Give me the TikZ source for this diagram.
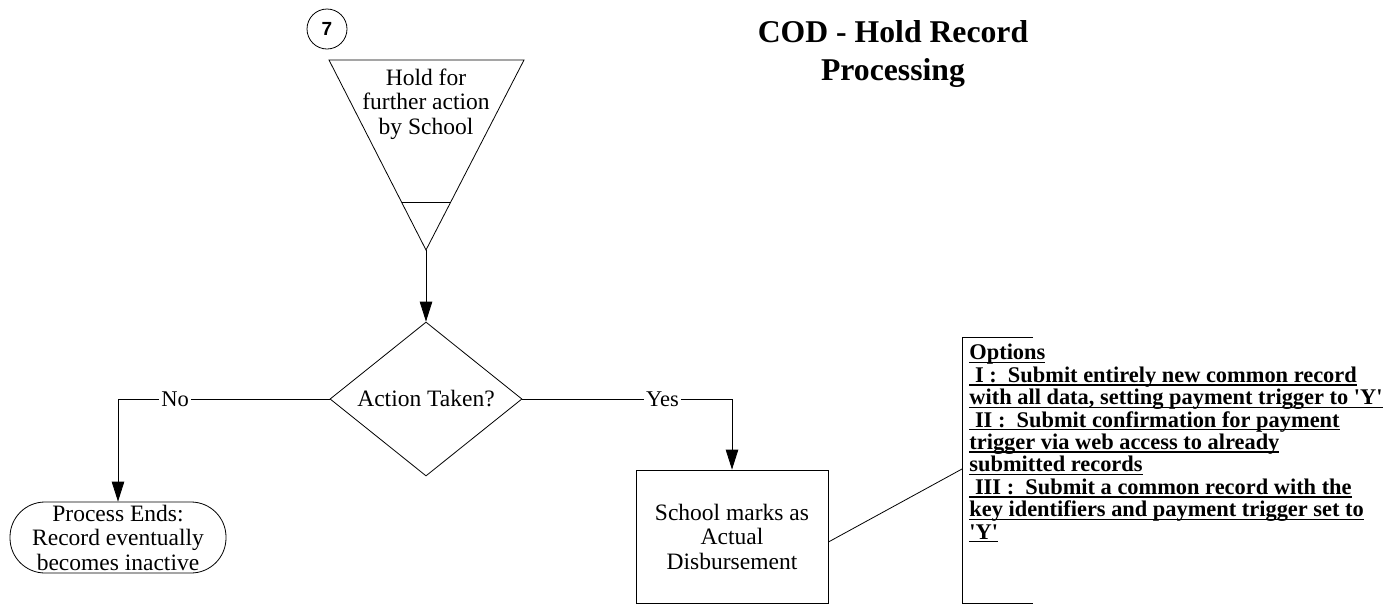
\documentclass[tikz,border=0pt]{standalone}
\usepackage{fontspec}
\setmainfont{Liberation Serif}
\newfontfamily\numfont{Liberation Sans}
\usetikzlibrary{arrows.meta,shapes.geometric}
\newcommand\myul[1]{\setbox0=\hbox{#1}\rlap{\rule[-3.2pt]{\wd0}{1.3pt}}\box0}
\begin{document}
\begin{tikzpicture}[x=1pt,y=-1pt,line width=0.8pt,
  every node/.style={inner sep=0pt},
  txt/.style={font=\fontsize{23.5}{24.5}\selectfont,align=center},
  lbl/.style={font=\fontsize{22.5}{24}\selectfont,fill=white,inner sep=2pt},
  arr/.style={-{Triangle[length=20pt,width=12.5pt]}},
  dec/.style={diamond,draw,minimum width=192pt,minimum height=143pt},
  proc/.style={draw,minimum width=192pt,minimum height=133pt},
  term/.style={draw,rounded corners=35pt,minimum width=216pt,minimum height=71pt}]
\useasboundingbox (0,0) rectangle (1400,611);
% title
\node[anchor=north,align=center,font=\bfseries\fontsize{31.7}{38}\selectfont] (title) at (893,20.6) {COD - Hold Record\\Processing};
% connector circle
\node[circle,draw,minimum size=40pt,font=\numfont\bfseries\fontsize{19}{19}\selectfont] (c7) at (327,29) {7};
% hold triangle
\coordinate (tl) at (329,60);
\coordinate (tr) at (524,60);
\coordinate (apex) at (426,250);
\coordinate (il) at (401.5,202);
\coordinate (ir) at (450.8,202);
\draw (tl) -- (tr) -- (apex) -- cycle;
\draw (il) -- (ir);
\node[txt] (hold) at (426,104) {Hold for\\further action\\by School};
% decision
\node[dec,txt] (dec) at (426,399) {Action Taken?};
\draw[arr] (apex) -- (dec.north);
% no branch
\coordinate (nc) at (118,399);
\node[term,txt] (end) at (118,537.5) {Process Ends:\\Record eventually\\becomes inactive};
\draw (dec.west) -- node[pos=0.73,lbl] {No} (nc);
\draw[arr] (nc) -- (end.north);
% yes branch
\coordinate (yc) at (732,399);
\node[proc,txt] (act) at (732,536.5) {School marks as\\Actual\\Disbursement};
\draw (dec.east) -- node[pos=0.668,lbl] {Yes} (yc);
\draw[arr] (yc) -- (act.north);
% annotation
\coordinate (bt) at (1033,337);
\coordinate (btl) at (962,337);
\coordinate (bbl) at (962,603);
\coordinate (bb) at (1033,603);
\coordinate (brk) at (962,469);
\draw (bt) -- (btl) -- (bbl) -- (bb);
\draw ([yshift=-5.5pt]act.east) -- (brk);
\node[anchor=north west,align=left,font=\bfseries\fontsize{22.4}{22.4}\selectfont] (opt) at (969,344) {%
\myul{Options}\\
\myul{\ I :\ \ Submit entirely new common record}\\
\myul{with all data, setting payment trigger to \textquotesingle Y\textquotesingle}\\
\myul{\ II :\ \ Submit confirmation for payment}\\
\myul{trigger via web access to already}\\
\myul{submitted records}\\
\myul{\ III :\ \ Submit a common record with the}\\
\myul{key identifiers and payment trigger set to}\\
\myul{\textquotesingle Y\textquotesingle}};
\end{tikzpicture}
\end{document}
